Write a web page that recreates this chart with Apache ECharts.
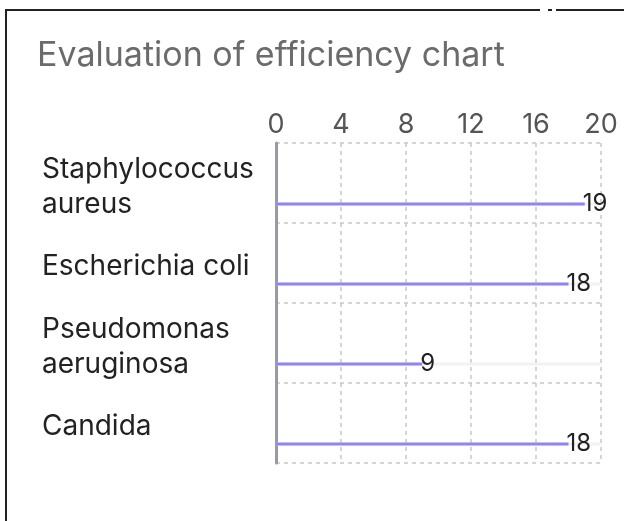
<!DOCTYPE html>
<html>
<head>
<meta charset="utf-8">
<script src="https://cdn.jsdelivr.net/npm/echarts@6/dist/echarts.min.js"></script>
<style>
html,body{margin:0;padding:0;background:#fff;}
#chart{width:624px;height:521px;}
</style>
</head>
<body>
<div id="chart"></div>
<script>
const titleText = 'Evaluation of efficiency chart';
const categories = ['Staphylococcus aureus', 'Escherichia coli', 'Pseudomonas aeruginosa', 'Candida'];
const efficiency = [19, 18, 9, 18];
const xTicks = { min: 0, max: 20, interval: 4 };

const chart = echarts.init(document.getElementById('chart'), null, { renderer: 'canvas' });
const FONT = 'Inter';
chart.setOption({
  animation: false,
  backgroundColor: '#ffffff',
  title: {
    text: titleText,
    left: 37, top: 39, padding: 0,
    textStyle: { fontFamily: FONT, fontSize: 34, fontWeight: 'normal', color: '#6b6b6b' }
  },
  grid: { left: 276, right: 23, top: 143, bottom: 58, containLabel: false },
  xAxis: {
    type: 'value', position: 'top',
    min: xTicks.min, max: xTicks.max, interval: xTicks.interval,
    axisLine: { show: false }, axisTick: { show: false },
    axisLabel: { fontFamily: FONT, fontSize: 27, color: '#555555', margin: 5 },
    splitLine: { show: true, lineStyle: { type: [4, 4], color: '#c8c8c8', width: 1.5 } }
  },
  yAxis: {
    type: 'category', inverse: true, data: categories,
    axisLine: { show: true, lineStyle: { color: '#9a98a6', width: 3 } },
    axisTick: { show: false },
    splitLine: { show: true, lineStyle: { type: [4, 4], color: '#c8c8c8', width: 1.5 } },
    axisLabel: {
      fontFamily: FONT, fontSize: 28, color: '#222222', lineHeight: 35,
      align: 'left', margin: 234, width: 228, overflow: 'break',
      formatter: v => '{a|' + v + '}',
      rich: { a: { fontFamily: FONT, fontSize: 28, color: '#222222', lineHeight: 35, padding: [8, 0, 0, 0] } }
    }
  },
  graphic: [
    { type: 'line', shape: { x1: 6, y1: 10, x2: 6, y2: 521 }, style: { stroke: '#222', lineWidth: 2 } },
    { type: 'line', shape: { x1: 5, y1: 10, x2: 540, y2: 10 }, style: { stroke: '#222', lineWidth: 2 } },
    { type: 'line', shape: { x1: 548, y1: 10, x2: 552, y2: 10 }, style: { stroke: '#222', lineWidth: 2 } },
    { type: 'line', shape: { x1: 556, y1: 10, x2: 624, y2: 10 }, style: { stroke: '#222', lineWidth: 2 } }
  ],
  series: [
    {
      type: 'bar', silent: true, barWidth: 3, barGap: '1300%',
      data: categories.map(() => '-')
    },
    {
      type: 'bar', barWidth: 3,
      data: efficiency,
      itemStyle: { color: '#8d86f3' },
      showBackground: true,
      backgroundStyle: { color: '#f1f1f6' },
      label: {
        show: true, position: 'right', distance: -2,
        fontFamily: FONT, fontSize: 24, color: '#222222'
      }
    }
  ]
});
</script>
</body>
</html>
